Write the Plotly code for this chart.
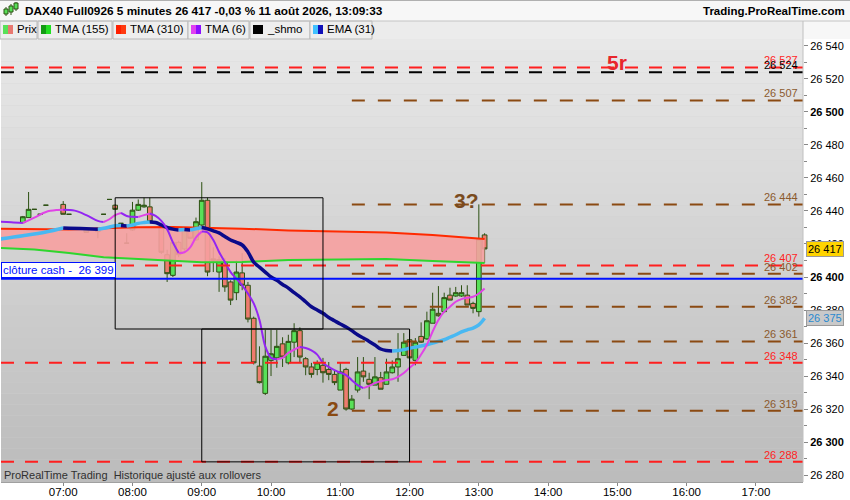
import plotly.graph_objects as go

day = "2026-08-11 "

# --- bougies 5 minutes (heure, open, high, low, close)
bar_times = ["06:25", "06:30", "06:35", "06:40", "06:45", "07:00", "07:05", "07:20", "07:30", "07:35",
             "07:40", "07:45", "07:50", "07:55", "08:00", "08:05", "08:10", "08:15", "08:25", "08:30",
             "08:35", "08:40", "08:45", "08:50", "08:55", "09:00", "09:05", "09:10", "09:15", "09:20",
             "09:25", "09:30", "09:35", "09:40", "09:45", "09:50", "09:55", "10:00", "10:05", "10:10",
             "10:15", "10:20", "10:25", "10:30", "10:35", "10:40", "10:45", "10:50", "10:55", "11:00",
             "11:05", "11:10", "11:15", "11:20", "11:25", "11:30", "11:35", "11:40", "11:45", "11:50",
             "11:55", "12:00", "12:05", "12:10", "12:15", "12:20", "12:25", "12:30", "12:35", "12:40",
             "12:45", "12:50", "12:55", "13:00", "13:05"]
bar_open = [26433, 26436, 26441, 26438, 26443.5, 26444, 26438, 26427, 26427.5, 26438,
            26447, 26443.5, 26432.5, 26420.5, 26428.5, 26440.5, 26442.5, 26442.5, 26430.5, 26413.5,
            26401, 26421, 26417, 26428.5, 26422.5, 26431.5, 26446.5, 26410, 26403, 26409,
            26397, 26390.5, 26402.5, 26395, 26375, 26346, 26329.5, 26349.5, 26351, 26359.5,
            26348, 26360.5, 26367.5, 26350.5, 26345.5, 26344, 26346.5, 26344, 26341, 26331.5,
            26344, 26320, 26331.5, 26343, 26338, 26334.5, 26339, 26335, 26342, 26345.5,
            26352.5, 26362, 26349.5, 26364, 26362.5, 26372, 26378, 26379, 26389, 26388.5,
            26388.5, 26389, 26384, 26379, 26425.5]
bar_high = [26437, 26451.5, 26441, 26438, 26443.5, 26446, 26438, 26428.5, 26430, 26438,
            26447, 26444, 26432.5, 26426.5, 26445.5, 26447, 26448, 26448, 26431, 26416.5,
            26422, 26422, 26429, 26429, 26436, 26457.5, 26448, 26418, 26412.5, 26411.5,
            26398, 26410, 26414.5, 26397, 26376, 26358, 26368, 26368, 26368, 26363.5,
            26365, 26372, 26369.5, 26351.5, 26348, 26349.5, 26351, 26348.5, 26343.5, 26348.5,
            26345, 26328.5, 26351.5, 26351.5, 26342, 26351.5, 26342.5, 26350.5, 26349.5, 26366,
            26366, 26368, 26363, 26372.5, 26379, 26390.5, 26394.5, 26390.5, 26393.5, 26394,
            26395, 26395, 26385, 26444, 26426.5]
bar_low = [26432.5, 26436, 26441, 26438, 26443.5, 26438, 26438, 26427, 26423.5, 26438,
           26447, 26441, 26432.5, 26420.5, 26428, 26440, 26442, 26433, 26414, 26397,
           26400, 26412, 26416, 26423, 26422, 26430, 26400.5, 26403, 26391, 26391,
           26383, 26386, 26392, 26372.5, 26347, 26335.5, 26328.5, 26340, 26345, 26345.5,
           26347, 26351.5, 26348.5, 26340.5, 26339, 26340.5, 26336, 26337.5, 26334.5, 26331.5,
           26319, 26319.5, 26330, 26336.5, 26326, 26334.5, 26332, 26335, 26341.5, 26336.5,
           26352.5, 26348.5, 26346.5, 26360, 26362, 26372, 26376, 26378.5, 26386, 26388,
           26388, 26383, 26378, 26376, 26408.5]
bar_close = [26436.5, 26441, 26441, 26438, 26443.5, 26438, 26438, 26428.5, 26429.5, 26438,
             26447, 26441, 26432.5, 26420.5, 26440.5, 26444, 26443.5, 26433.5, 26415, 26402,
             26421, 26413.5, 26428.5, 26423.5, 26433.5, 26446.5, 26403, 26411, 26410.5, 26394,
             26386, 26403, 26395, 26374.5, 26348, 26336, 26352, 26353.5, 26358, 26351.5,
             26361, 26367.5, 26351.5, 26345.5, 26341, 26348, 26342, 26341, 26336, 26342.5,
             26320, 26326, 26342.5, 26339.5, 26335, 26339.5, 26332, 26342.5, 26345.5, 26350.5,
             26360.5, 26351, 26360.5, 26360.5, 26373.5, 26380.5, 26376.5, 26387.5, 26386, 26390.5,
             26390.5, 26383, 26381, 26423, 26417]

# --- EMA (31)
ema_times = ["06:05", "06:25", "06:45", "07:00", "07:05", "07:15", "07:30", "07:35", "07:45", "07:50",
             "07:55", "08:00", "08:05", "08:10", "08:15", "08:20", "08:25", "08:30", "08:35", "08:40",
             "08:45", "08:50", "08:55", "09:00", "09:05", "09:10", "09:15", "09:20", "09:25", "09:30",
             "09:35", "09:40", "09:45", "09:50", "09:55", "10:00", "10:05", "10:10", "10:15", "10:20",
             "10:25", "10:30", "10:35", "10:40", "10:45", "10:50", "10:55", "11:00", "11:05", "11:10",
             "11:15", "11:20", "11:25", "11:30", "11:35", "11:40", "11:45", "11:50", "11:55", "12:00",
             "12:05", "12:10", "12:15", "12:20", "12:25", "12:30", "12:35", "12:40", "12:45", "12:50",
             "12:55", "13:00", "13:05"]
ema_values = [26423.0, 26425.0, 26427.3, 26429.7, 26429.6, 26429.4, 26429.0, 26429.5, 26431.0, 26431.2,
              26430.9, 26431.5, 26432.5, 26433.0, 26433.3, 26433.0, 26431.5, 26430.0, 26429.0, 26428.5,
              26428.8, 26428.5, 26429.2, 26430.0, 26429.2, 26428.0, 26426.7, 26424.5, 26422.4, 26421.0,
              26419.4, 26415.2, 26409.0, 26406.0, 26403.0, 26400.0, 26398.0, 26395.5, 26393.3, 26390.5,
              26388.0, 26385.0, 26382.0, 26380.0, 26378.0, 26375.5, 26373.5, 26371.5, 26369.7, 26367.5,
              26365.0, 26363.0, 26361.0, 26358.8, 26356.4, 26355.5, 26355.2, 26355.5, 26356.0, 26356.8,
              26357.5, 26358.2, 26359.0, 26360.0, 26361.0, 26362.0, 26363.5, 26365.0, 26366.7, 26368.0,
              26369.0, 26371.0, 26375.0]

# --- TMA (6)
tma6_times = ["06:05", "06:15", "06:25", "06:35", "06:45", "06:55", "07:00", "07:10", "07:20", "07:30",
              "07:35", "07:40", "07:45", "07:50", "07:55", "08:00", "08:05", "08:10", "08:15", "08:20",
              "08:25", "08:30", "08:35", "08:40", "08:45", "08:50", "08:55", "09:00", "09:05", "09:10",
              "09:15", "09:20", "09:25", "09:30", "09:35", "09:40", "09:45", "09:50", "09:55", "10:00",
              "10:05", "10:10", "10:15", "10:20", "10:25", "10:30", "10:35", "10:40", "10:45", "10:50",
              "10:55", "11:00", "11:05", "11:10", "11:15", "11:20", "11:25", "11:30", "11:35", "11:40",
              "11:45", "11:50", "11:55", "12:00", "12:05", "12:10", "12:15", "12:20", "12:25", "12:30",
              "12:35", "12:40", "12:45", "12:50", "12:55", "13:00", "13:05"]
tma6_values = [26433.5, 26433.2, 26432.7, 26436.0, 26439.4, 26440.6, 26440.8, 26440.2, 26437.5, 26434.0,
               26433.3, 26435.0, 26437.5, 26438.8, 26437.0, 26436.5, 26436.4, 26437.5, 26438.5, 26437.0,
               26434.0, 26429.0, 26421.0, 26414.5, 26415.0, 26418.0, 26424.0, 26427.5, 26427.0, 26422.4,
               26415.2, 26409.0, 26403.0, 26399.0, 26395.0, 26390.0, 26384.0, 26374.0, 26358.0, 26351.0,
               26350.2, 26351.0, 26354.0, 26356.0, 26357.6, 26357.0, 26355.5, 26353.0, 26348.0, 26345.5,
               26343.6, 26342.0, 26340.6, 26337.5, 26334.5, 26332.7, 26334.0, 26335.8, 26336.8, 26337.6,
               26338.0, 26339.5, 26341.8, 26345.0, 26348.0, 26353.0, 26359.0, 26367.0, 26374.0, 26379.0,
               26382.0, 26385.0, 26386.6, 26387.4, 26388.0, 26390.0, 26393.0]

# --- TMA (155) / TMA (310)
band_times = ["06:05", "06:35", "07:05", "07:35", "08:05", "08:35", "09:00", "09:35", "10:15", "11:00",
              "11:40", "12:20", "13:05"]
tma155_values = [26417.6, 26416.7, 26414.5, 26412.0, 26410.9, 26409.7, 26409.0, 26409.1, 26410.3, 26410.6,
                 26410.9, 26409.7, 26408.5]
tma310_values = [26429.3, 26429.0, 26428.8, 26429.6, 26430.2, 26430.3, 26430.0, 26429.3, 26428.2, 26427.6,
                 26427.0, 26425.5, 26423.0]

# --- niveaux tracés
red_levels = [26527, 26407, 26348, 26288]
shmo_level = 26524
brown_levels = [26507, 26444, 26402, 26382, 26361, 26319]
brown_start = "11:10"
cash_close = 26399
boxes = [("07:45", "10:45", 26368.5, 26448), ("09:00", "12:00", 26288, 26368.5)]
last_price = 26417
ema_last = 26375
notes = [("15:00", 26530, "5r", "#e8262c"), ("12:49", 26446.5, "3?", "#7a4b1e"), ("10:54", 26320.5, "2", "#8a4a12")]

hour_ticks = ["07:00", "08:00", "09:00", "10:00", "11:00", "12:00", "13:00", "14:00", "15:00", "16:00", "17:00"]
y_ticks = [26280, 26300, 26320, 26340, 26360, 26380, 26400, 26420, 26440, 26460, 26480, 26500, 26520, 26540]
y_labels = ["26 280", "<b>26 300</b>", "26 320", "26 340", "26 360", "26 380", "<b>26 400</b>",
            "26 420", "26 440", "26 460", "26 480", "<b>26 500</b>", "26 520", "26 540"]

x_start = day + "06:06:06"
x_end = day + "17:40:48"
FONT = "Arial, Liberation Sans, sans-serif"
RED = "#ff1f1f"
BROWN = "#8b4a12"


def t(hm):
    return day + hm


def fmt(v):
    return f"{v:,.0f}".replace(",", " ")


def px(X):   # pixel -> paper (horizontal)
    return (X - 1) / 802


def py(Y):   # pixel -> paper (vertical)
    return (482 - Y) / 443


def runs(times, values):
    # découpe la courbe en morceaux montants / descendants
    out = []
    start = 0
    cur = values[1] > values[0]
    for i in range(2, len(values)):
        d = values[i] > values[i - 1]
        if d != cur:
            out.append((cur, times[start:i], values[start:i]))
            start = i - 1
            cur = d
    out.append((cur, times[start:], values[start:]))
    return out


fig = go.Figure()

# remplissage entre TMA 155 et TMA 310
fig.add_trace(go.Scatter(x=[t(h) for h in band_times], y=tma155_values, mode="lines",
                         line=dict(width=0), hoverinfo="skip"))
fig.add_trace(go.Scatter(x=[t(h) for h in band_times], y=tma310_values, mode="lines",
                         line=dict(width=0), fill="tonexty", fillcolor="rgba(246,160,160,0.9)",
                         hoverinfo="skip"))

fig.add_trace(go.Candlestick(
    x=[t(h) for h in bar_times], open=bar_open, high=bar_high, low=bar_low, close=bar_close,
    increasing=dict(fillcolor="#58e058", line=dict(color="#2c5012", width=1)),
    decreasing=dict(fillcolor="#ee7b6e", line=dict(color="#2c5012", width=1)),
    whiskerwidth=0, hoverinfo="skip"))

fig.add_trace(go.Scatter(x=[t(h) for h in band_times], y=tma155_values, mode="lines",
                         line=dict(color="#2ed62e", width=2), hoverinfo="skip"))
fig.add_trace(go.Scatter(x=[t(h) for h in band_times], y=tma310_values, mode="lines",
                         line=dict(color="#ff2a00", width=2), hoverinfo="skip"))

for up, xs, ys in runs(ema_times, ema_values):
    fig.add_trace(go.Scatter(x=[t(h) for h in xs], y=ys, mode="lines",
                             line=dict(color="#48b8f2" if up else "#0a0a8a", width=3.5, shape="spline"),
                             hoverinfo="skip"))

for up, xs, ys in runs(tma6_times, tma6_values):
    fig.add_trace(go.Scatter(x=[t(h) for h in xs], y=ys, mode="lines",
                             line=dict(color="#e044e6" if up else "#9326f2", width=2, shape="spline"),
                             hoverinfo="skip"))

shapes = []
# fond dégradé de la zone de tracé
n = 40
for i in range(n):
    c = int(188 + (232 - 188) * i / (n - 1))
    shapes.append(dict(type="rect", xref="paper", yref="paper", x0=0, x1=1, y0=i / n, y1=(i + 1) / n,
                       fillcolor=f"rgb({c},{c},{c})", line=dict(width=0), layer="below"))

for lv in red_levels:
    shapes.append(dict(type="line", xref="x", yref="y", x0=x_start, x1=x_end, y0=lv, y1=lv,
                       line=dict(color=RED, width=2, dash="13px,11px")))
shapes.append(dict(type="line", xref="x", yref="y", x0=x_start, x1=x_end, y0=shmo_level, y1=shmo_level,
                   line=dict(color="black", width=2, dash="13px,11px")))
for lv in brown_levels:
    shapes.append(dict(type="line", xref="x", yref="y", x0=t(brown_start), x1=x_end, y0=lv, y1=lv,
                       line=dict(color=BROWN, width=2, dash="13px,13px")))
shapes.append(dict(type="line", xref="x", yref="y", x0=x_start, x1=x_end, y0=cash_close, y1=cash_close,
                   line=dict(color="#0010ff", width=2)))
for a, b, lo, hi in boxes:
    shapes.append(dict(type="rect", xref="x", yref="y", x0=t(a), x1=t(b), y0=lo, y1=hi,
                       line=dict(color="black", width=1)))

# bandeau du haut
shapes.append(dict(type="rect", xref="paper", yref="paper", x0=px(0), x1=px(850), y0=py(39), y1=py(0),
                   fillcolor="#f7f7f7", line=dict(width=0), layer="below"))
shapes.append(dict(type="rect", xref="paper", yref="paper", x0=px(0), x1=px(803), y0=py(39), y1=py(21),
                   fillcolor="#ececec", line=dict(width=0), layer="below"))
shapes.append(dict(type="line", xref="paper", yref="paper", x0=px(0), x1=px(850), y0=py(21), y1=py(21),
                   line=dict(color="#c4c4c4", width=1)))
shapes.append(dict(type="line", xref="paper", yref="paper", x0=px(0), x1=px(850), y0=py(0.5), y1=py(0.5),
                   line=dict(color="#b0b0b0", width=1)))
# bord droit de la zone de tracé
shapes.append(dict(type="line", xref="paper", yref="paper", x0=1, x1=1, y0=0, y1=py(21),
                   line=dict(color="#c0c0c0", width=1)))

annotations = []
annotations.append(dict(xref="paper", yref="paper", x=px(23), y=py(11), xanchor="left", yanchor="middle",
                        text="<b>DAX40 Full0926 5 minutes 26 417 -0,03 % 11 août 2026, 13:09:33</b>",
                        showarrow=False, font=dict(family=FONT, size=11.8, color="black")))
annotations.append(dict(xref="paper", yref="paper", x=px(847), y=py(11), xanchor="right", yanchor="middle",
                        text="<b>Trading.ProRealTime.com</b>", showarrow=False,
                        font=dict(family=FONT, size=11.5, color="black")))

# petite icône bougies
for cx, y0, y1, w0, w1 in [(6, 9, 14, 7, 16), (11, 6, 12, 4, 15), (16, 3, 9, 2, 11)]:
    shapes.append(dict(type="line", xref="paper", yref="paper", x0=px(cx), x1=px(cx), y0=py(w1), y1=py(w0),
                       line=dict(color="#2c5012", width=1)))
    shapes.append(dict(type="rect", xref="paper", yref="paper", x0=px(cx - 2), x1=px(cx + 2), y0=py(y1),
                       y1=py(y0), fillcolor="#58e058", line=dict(color="#2c5012", width=1)))

# légende des indicateurs
legend_items = [("Prix", "#58e058", "#e87870", 3, 37),
                ("TMA (155)", "#139a13", "#22e022", 41, 112),
                ("TMA (310)", "#ff2000", "#ff3a10", 116, 188),
                ("TMA (6)", "#e040f0", "#8c10ff", 191, 249),
                ("_shmo", "black", "black", 253, 310),
                ("EMA (31)", "#40c0ff", "#1010b8", 313, 372)]
for label, c1, c2, x0, sep in legend_items:
    shapes.append(dict(type="rect", xref="paper", yref="paper", x0=px(x0 - 3), x1=px(sep), y0=py(39), y1=py(21),
                       fillcolor="#eeeeee", line=dict(color="#b8b8b8", width=1), layer="below"))
    shapes.append(dict(type="rect", xref="paper", yref="paper", x0=px(x0), x1=px(x0 + 5), y0=py(34), y1=py(25),
                       fillcolor=c1, line=dict(width=0)))
    shapes.append(dict(type="rect", xref="paper", yref="paper", x0=px(x0 + 5), x1=px(x0 + 10), y0=py(34), y1=py(25),
                       fillcolor=c2, line=dict(width=0)))
    annotations.append(dict(xref="paper", yref="paper", x=px(x0 + 12), y=py(29.5), xanchor="left",
                            yanchor="middle", text=label, showarrow=False,
                            font=dict(family=FONT, size=11.5, color="black")))

# étiquettes des niveaux
level_labels = [(lv, RED) for lv in red_levels] + [(shmo_level, "black")] + [(lv, "#8b5a2e") for lv in brown_levels]
for lv, col in level_labels:
    annotations.append(dict(xref="x", yref="y", x=x_end, y=lv, xanchor="right", yanchor="bottom",
                            xshift=-3, yshift=-1, text=fmt(lv), showarrow=False,
                            font=dict(family=FONT, size=11, color=col)))

annotations.append(dict(xref="paper", yref="y", x=px(1), y=cash_close, xanchor="left", yanchor="bottom",
                        yshift=1, text="clôture cash -  " + fmt(cash_close), showarrow=False,
                        bgcolor="white", bordercolor="#0010ff", borderwidth=1, borderpad=1,
                        font=dict(family=FONT, size=11.5, color="#0010ff")))

for hm, price, txt, col in notes:
    annotations.append(dict(xref="x", yref="y", x=t(hm), y=price, text="<b>" + txt + "</b>", showarrow=False,
                            font=dict(family=FONT, size=21, color=col)))

annotations.append(dict(xref="paper", yref="paper", x=px(2), y=py(475), xanchor="left", yanchor="middle",
                        text="ProRealTime Trading  Historique ajusté aux rollovers", showarrow=False,
                        font=dict(family=FONT, size=11, color="#303030")))

# étiquettes de prix sur l'axe
annotations.append(dict(xref="paper", yref="y", x=1, y=last_price, xanchor="left", xshift=3,
                        text=fmt(last_price), showarrow=False, bgcolor="#ffd400", bordercolor="#9a9a9a",
                        borderwidth=1, borderpad=1, font=dict(family=FONT, size=11, color="black")))
annotations.append(dict(xref="paper", yref="y", x=1, y=ema_last, xanchor="left", xshift=3,
                        text=fmt(ema_last), showarrow=False, bgcolor="#c9c9c9", bordercolor="#9a9a9a",
                        borderwidth=1, borderpad=1, font=dict(family=FONT, size=11, color="#2a8ad0")))

fig.update_layout(
    width=850, height=500,
    margin=dict(l=1, r=47, t=39, b=18),
    paper_bgcolor="white", plot_bgcolor="#d0d0d0",
    showlegend=False,
    boxgap=0.1, boxgroupgap=0.1,
    shapes=shapes, annotations=annotations,
    font=dict(family=FONT, size=11, color="black"),
    xaxis=dict(type="date", range=[x_start, x_end], rangeslider=dict(visible=False),
               tickvals=[t(h) for h in hour_ticks], ticktext=hour_ticks, automargin=False,
               ticks="outside", ticklen=3, tickcolor="#888", showgrid=False, zeroline=False,
               ticklabelstandoff=-4,
               showline=True, linecolor="#a0a0a0", tickfont=dict(size=11.5)),
    yaxis=dict(side="right", range=[26275.8, 26544.2], tickvals=y_ticks, ticktext=y_labels,
               automargin=False,
               ticks="outside", ticklen=4, tickcolor="#888", showgrid=False, zeroline=False,
               minor=dict(dtick=10, ticks="outside", ticklen=3, tickcolor="#888"),
               tickfont=dict(size=11)),
)

# la page doit occuper toute la fenêtre (pas de marge du <body>)
fig.write_html("out.html", config={"displayModeBar": False},
               post_script="document.body.style.margin='0';")
